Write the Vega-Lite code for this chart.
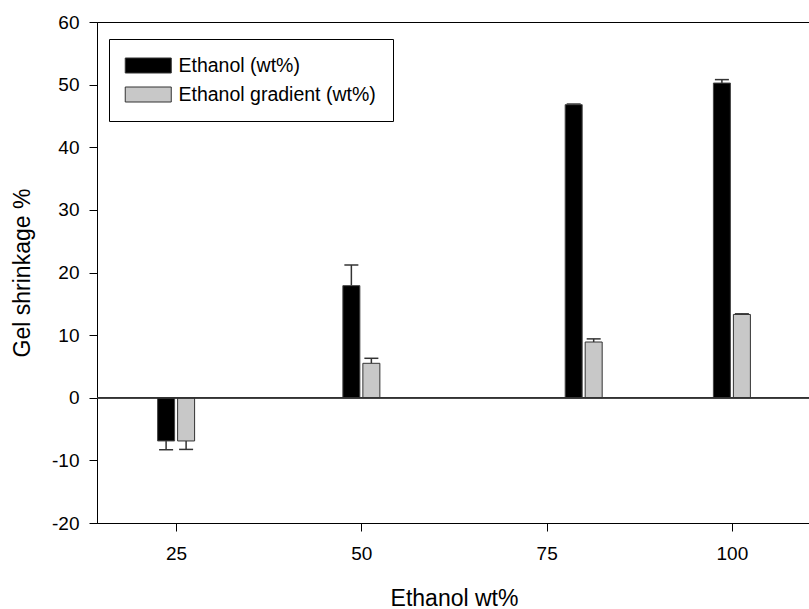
{
  "$schema": "https://vega.github.io/schema/vega-lite/v6.json",
  "autosize": {"type": "none"},
  "padding": {"left": 97, "top": 22, "right": 0, "bottom": 86},
  "width": 714,
  "height": 501,
  "background": "white",
  "config": {
    "font": "Liberation Sans",
    "view": {"stroke": "#000", "strokeWidth": 1},
    "axis": {
      "grid": false,
      "domainColor": "#000",
      "tickColor": "#000",
      "labelColor": "#000",
      "titleColor": "#000",
      "labelFontSize": 19,
      "titleFontSize": 23,
      "titleFontWeight": "normal",
      "tickSize": 8,
      "domainWidth": 1,
      "tickWidth": 1,
      "labelExpr": "datum.value + ''"
    },
    "legend": {
      "orient": "none",
      "legendX": 12,
      "legendY": 17,
      "fillColor": "white",
      "strokeColor": "#000",
      "strokeWidth": 1,
      "padding": 16.75,
      "cornerRadius": 0,
      "symbolType": "M-1.367,-1H4.767V1H-1.367Z",
      "symbolSize": 225,
      "symbolStrokeColor": "#333",
      "symbolStrokeWidth": 1,
      "symbolOpacity": 1,
      "labelOffset": 33.25,
      "labelFontSize": 19.5,
      "labelColor": "#000",
      "labelLimit": 400,
      "rowPadding": 8,
      "title": null
    }
  },
  "data": {
    "values": [
      {"x": 25, "series": "Ethanol (wt%)", "value": -6.9, "errEnd": -8.3},
      {"x": 50, "series": "Ethanol (wt%)", "value": 17.9, "errEnd": 21.2},
      {"x": 80, "series": "Ethanol (wt%)", "value": 46.8, "errEnd": 46.9},
      {"x": 100, "series": "Ethanol (wt%)", "value": 50.25, "errEnd": 50.8},
      {"x": 25, "series": "Ethanol gradient (wt%)", "value": -6.9, "errEnd": -8.25},
      {"x": 50, "series": "Ethanol gradient (wt%)", "value": 5.5, "errEnd": 6.3},
      {"x": 80, "series": "Ethanol gradient (wt%)", "value": 8.9, "errEnd": 9.4},
      {"x": 100, "series": "Ethanol gradient (wt%)", "value": 13.3, "errEnd": 13.4}
    ]
  },
  "encoding": {
    "x": {
      "field": "x",
      "type": "quantitative",
      "scale": {"domain": [15, 110], "nice": false, "zero": false},
      "axis": {"values": [25, 50, 75, 100], "labelPadding": 13, "title": "Ethanol wt%", "titleY": 82, "titleBaseline": "alphabetic"}
    },
    "y": {
      "field": "value",
      "type": "quantitative",
      "scale": {"domain": [-20, 60], "nice": false},
      "axis": {"values": [-20, -10, 0, 10, 20, 30, 40, 50, 60], "labelPadding": 10, "title": "Gel shrinkage %", "titleX": -68, "titleY": 250.5, "titleBaseline": "alphabetic", "titleAlign": "center"}
    }
  },
  "layer": [
    {
      "transform": [{"filter": "datum.series === 'Ethanol (wt%)'"}],
      "mark": {"type": "rule", "color": "#333", "strokeWidth": 1.5, "xOffset": -10},
      "encoding": {"y2": {"field": "errEnd"}}
    },
    {
      "transform": [{"filter": "datum.series === 'Ethanol gradient (wt%)'"}],
      "mark": {"type": "rule", "color": "#333", "strokeWidth": 1.5, "xOffset": 10},
      "encoding": {"y2": {"field": "errEnd"}}
    },
    {
      "transform": [{"filter": "datum.series === 'Ethanol (wt%)'"}],
      "mark": {"type": "tick", "orient": "horizontal", "color": "#333", "size": 14, "thickness": 1.5, "xOffset": -10, "opacity": 1},
      "encoding": {"y": {"field": "errEnd", "type": "quantitative"}}
    },
    {
      "transform": [{"filter": "datum.series === 'Ethanol gradient (wt%)'"}],
      "mark": {"type": "tick", "orient": "horizontal", "color": "#333", "size": 14, "thickness": 1.5, "xOffset": 10, "opacity": 1},
      "encoding": {"y": {"field": "errEnd", "type": "quantitative"}}
    },
    {
      "transform": [{"filter": "datum.series === 'Ethanol (wt%)'"}],
      "mark": {"type": "bar", "width": 17, "xOffset": -10, "stroke": "#444", "strokeWidth": 1},
      "encoding": {
        "color": {"field": "series", "type": "nominal", "scale": {"domain": ["Ethanol (wt%)", "Ethanol gradient (wt%)"], "range": ["#000000", "#c8c8c8"]}}
      }
    },
    {
      "transform": [{"filter": "datum.series === 'Ethanol gradient (wt%)'"}],
      "mark": {"type": "bar", "width": 17, "xOffset": 10, "stroke": "#333", "strokeWidth": 1},
      "encoding": {
        "color": {"field": "series", "type": "nominal", "scale": {"domain": ["Ethanol (wt%)", "Ethanol gradient (wt%)"], "range": ["#000000", "#c8c8c8"]}}
      }
    },
    {
      "mark": {"type": "rule", "color": "#333", "strokeWidth": 1.2},
      "encoding": {"x": null, "y": {"datum": 0, "type": "quantitative"}}
    }
  ]
}
